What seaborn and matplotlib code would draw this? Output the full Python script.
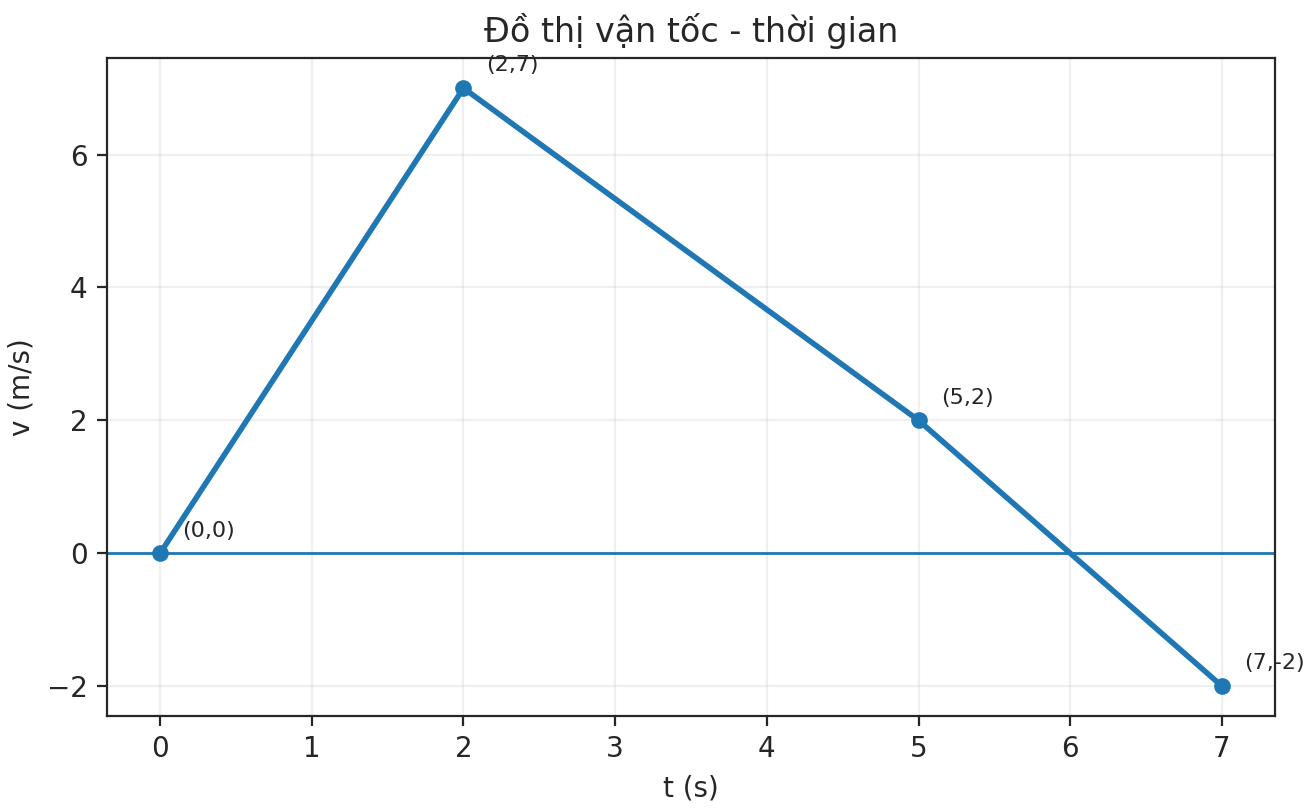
import matplotlib
matplotlib.use("Agg")
import matplotlib.pyplot as plt
import seaborn as sns
import pandas as pd

t = [0, 2, 5, 7]
v = [0, 7, 2, -2]
labels = ["(0,0)", "(2,7)", "(5,2)", "(7,-2)"]

sns.set_style("ticks")
plt.rcParams['font.family'] = ['DejaVu Sans']
fig = plt.figure(figsize=(6.535, 4.045), dpi=200)
ax = fig.add_axes([0.0819, 0.115, 0.8936, 0.813])
df = pd.DataFrame({"t": t, "v": v})
sns.lineplot(data=df, x="t", y="v", ax=ax, marker="o", linewidth=2, color="#1f77b4",
             markersize=6, markeredgewidth=0)
ax.axhline(0, color="#1f77b4", linewidth=1)
for x, y, s in zip(t, v, labels):
    ax.annotate(s, (x, y), xytext=(8, 6), textcoords="offset points", fontsize=8)
ax.grid(True, alpha=0.3)
ax.set_title("Đồ thị vận tốc - thời gian", fontsize=12)
ax.set_xlabel("t (s)")
ax.set_ylabel("v (m/s)")
ax.set_xlim(-0.35, 7.35)
ax.set_ylim(-2.45, 7.45)
fig.savefig("out.png", dpi=200)
